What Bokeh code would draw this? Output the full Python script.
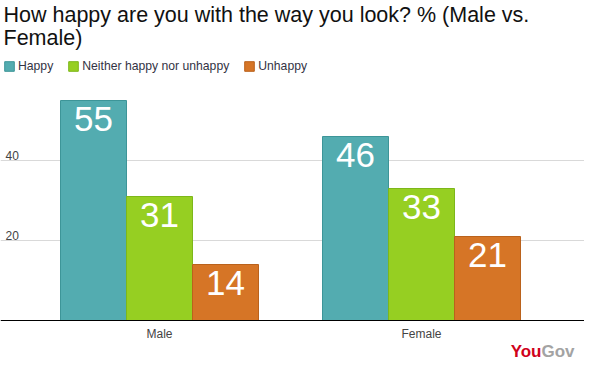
from bokeh.plotting import figure
from bokeh.models import Range1d, Grid, FixedTicker, Span, Label, Legend, LegendItem, ColumnDataSource
from bokeh.transform import dodge
from bokeh.core.properties import value
from bokeh.embed import file_html
from bokeh.resources import INLINE

# ---- data ----
categories = ["Male", "Female"]
series = ["Happy", "Neither happy nor unhappy", "Unhappy"]
happy = [55, 46]
neither = [31, 33]
unhappy = [14, 21]
y_ticks = [20, 40]
title_lines = ["How happy are you with the way you look? % (Male vs.", "Female)"]

# ---- style ----
colors = ["#53ACB0", "#96CF22", "#D67526"]
outlines = ["#3D9598", "#7DB71A", "#BA621C"]
FONT = "Liberation Sans"

W, H = 584, 363
ZERO_FROM_BOTTOM = 43
PX_PER_UNIT_Y = 4
GROUP0_PX = 159
PX_PER_GROUP = 262
BAR_W = 66 / PX_PER_GROUP
x_start = -GROUP0_PX / PX_PER_GROUP
x_end = (W - GROUP0_PX) / PX_PER_GROUP
y_start = -ZERO_FROM_BOTTOM / PX_PER_UNIT_Y
y_end = (H - ZERO_FROM_BOTTOM) / PX_PER_UNIT_Y

src = ColumnDataSource(dict(
    x=list(range(len(categories))),
    cat=categories,
    happy=happy, neither=neither, unhappy=unhappy,
    happy_lbl=[str(v) for v in happy],
    neither_lbl=[str(v) for v in neither],
    unhappy_lbl=[str(v) for v in unhappy],
))

p = figure(width=W, height=H, x_range=Range1d(x_start, x_end), y_range=Range1d(y_start, y_end),
           output_backend="svg", toolbar_location=None,
           x_axis_location=None, y_axis_location=None, min_border=0,
           outline_line_color=None, background_fill_color="white", border_fill_color="white")
for g in p.grid:
    g.visible = False

# gridlines
p.add_layout(Grid(dimension=1, ticker=FixedTicker(ticks=y_ticks),
                  grid_line_color="#d9d9d9", grid_line_width=1))

# bars
keys = ["happy", "neither", "unhappy"]
offsets = [-BAR_W, 0, BAR_W]
renderers = []
for k, off, c, oc in zip(keys, offsets, colors, outlines):
    r = p.vbar(x=dodge("x", off), top=k, bottom=0, width=BAR_W, source=src,
               fill_color=c, line_color=oc, line_width=1)
    renderers.append(r)
    p.text(x=dodge("x", off), y=k, text=k + "_lbl", source=src,
           text_font=value(FONT), text_font_size="35px", text_color="white",
           text_align="center", text_baseline="top", y_offset=6)

# baseline
p.add_layout(Span(location=0, dimension="width", line_color="black", line_width=1))

# category labels
p.text(x="x", y=0, text="cat", source=src, text_font=value(FONT), text_font_size="12px",
       text_color="#444444", text_align="center", text_baseline="top", y_offset=6)

# y tick labels
tsrc = ColumnDataSource(dict(y=y_ticks, t=[str(t) for t in y_ticks]))
p.text(x=x_start, y="y", text="t", source=tsrc, text_font=value(FONT), text_font_size="12px",
       text_color="#444444", text_align="left", text_baseline="alphabetic", x_offset=5, y_offset=-5)

# legend
legend = Legend(items=[LegendItem(label=s, renderers=[r]) for s, r in zip(series, renderers)],
                orientation="horizontal", location=(3, 290), glyph_width=12, glyph_height=12,
                label_height=12, label_standoff=3, spacing=14, padding=0, margin=0,
                border_line_alpha=0, background_fill_alpha=0,
                label_text_font=FONT, label_text_font_size="12.2px", label_text_color="#333344")
p.add_layout(legend)

# title
for i, t in enumerate(title_lines):
    p.add_layout(Label(x=3, y=349 - 23 * i, x_units="screen", y_units="screen", text=t,
                       text_font=FONT, text_font_size="21.5px", text_color="#111111",
                       text_baseline="alphabetic"))

# logo
p.add_layout(Label(x=541, y=12, x_units="screen", y_units="screen", text="You",
                   text_font=FONT, text_font_size="17px", text_font_style="bold",
                   text_color="#D0021B", text_align="right", text_baseline="middle"))
p.add_layout(Label(x=541, y=12, x_units="screen", y_units="screen", text="Gov",
                   text_font=FONT, text_font_size="17px", text_font_style="bold",
                   text_color="#A3A3A3", text_align="left", text_baseline="middle"))

open("out.html", "w").write(file_html(p, INLINE))
